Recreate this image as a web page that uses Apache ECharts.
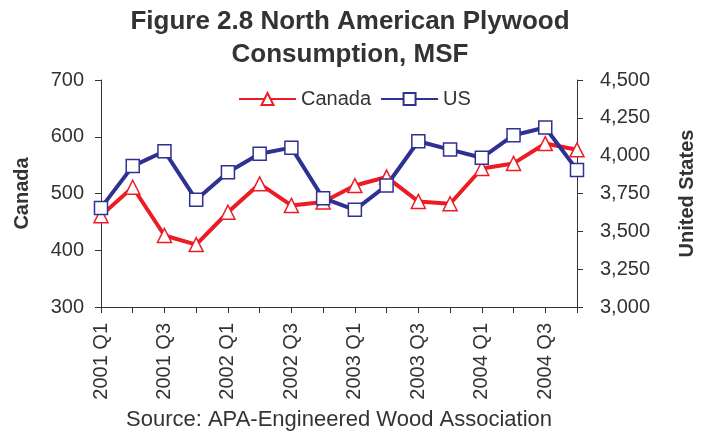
<!DOCTYPE html>
<html>
<head>
<meta charset="utf-8">
<script src="https://cdn.jsdelivr.net/npm/echarts@6/dist/echarts.min.js"></script>
<style>
  html, body { margin: 0; padding: 0; background: #fff; }
  #chart { width: 706px; height: 435px; }
</style>
</head>
<body>
<div id="chart"></div>
<script>
  // Quarters shown on the x axis
  const quarters = [
    '2001 Q1', '2001 Q2', '2001 Q3', '2001 Q4',
    '2002 Q1', '2002 Q2', '2002 Q3', '2002 Q4',
    '2003 Q1', '2003 Q2', '2003 Q3', '2003 Q4',
    '2004 Q1', '2004 Q2', '2004 Q3', '2004 Q4'
  ];
  // Canada, MSF (left axis)
  const canada = [461, 511, 426, 410, 467, 517, 479, 485, 514, 529, 486, 482, 544, 553, 588, 577];
  // US, MSF (right axis)
  const us = [3655, 3931, 4029, 3708, 3891, 4013, 4053, 3719, 3642, 3803, 4095, 4040, 3986, 4135, 4186, 3906];

  const font = '"Liberation Sans", Arial, sans-serif';
  const textColor = '#333';
  const axisColor = '#333';

  const chart = echarts.init(document.getElementById('chart'));
  chart.setOption({
    animation: false,
    title: {
      text: 'Figure 2.8 North American Plywood\nConsumption, MSF',
      left: 345,
      textAlign: 'center',
      top: 0,
      textStyle: { fontFamily: font, fontSize: 26, fontWeight: 'bold', color: textColor, lineHeight: 33 }
    },
    legend: {
      left: 233,
      top: 84,
      itemWidth: 57,
      itemHeight: 15,
      itemGap: 9,
      textStyle: { fontFamily: font, fontSize: 20, color: textColor },
      data: ['Canada', 'US']
    },
    grid: { left: 101, right: 129, top: 80, bottom: 128 },
    xAxis: {
      type: 'category',
      data: quarters,
      boundaryGap: false,
      axisLine: { lineStyle: { color: axisColor } },
      axisTick: { alignWithLabel: true, interval: 0, length: 6, lineStyle: { color: axisColor } },
      axisLabel: {
        interval: 1,
        rotate: 90,
        margin: 16,
        fontFamily: font,
        fontSize: 20,
        color: textColor
      }
    },
    yAxis: [
      {
        type: 'value',
        name: 'Canada',
        nameLocation: 'middle',
        nameGap: 69,
        nameTextStyle: { fontFamily: font, fontSize: 20, fontWeight: 'bold', color: textColor },
        min: 300,
        max: 700,
        interval: 100,
        axisLine: { show: true, lineStyle: { color: axisColor } },
        axisTick: { show: true, length: 6, lineStyle: { color: axisColor } },
        splitLine: { show: false },
        axisLabel: { fontFamily: font, fontSize: 20, color: textColor, margin: 17 }
      },
      {
        type: 'value',
        name: 'United States',
        nameLocation: 'middle',
        nameGap: 100,
        nameRotate: 90,
        nameTextStyle: { fontFamily: font, fontSize: 20, fontWeight: 'bold', color: textColor },
        min: 3000,
        max: 4500,
        interval: 250,
        axisLine: { show: true, lineStyle: { color: axisColor } },
        axisTick: { show: true, length: 6, lineStyle: { color: axisColor } },
        splitLine: { show: false },
        axisLabel: {
          fontFamily: font, fontSize: 20, color: textColor, margin: 23,
          formatter: v => v.toLocaleString('en-US')
        }
      }
    ],
    series: [
      {
        name: 'Canada',
        type: 'line',
        yAxisIndex: 0,
        data: canada,
        symbol: 'triangle',
        symbolSize: 14,
        lineStyle: { color: '#ed1c24', width: 4 },
        itemStyle: { color: '#fff', borderColor: '#ed1c24', borderWidth: 1.5 }
      },
      {
        name: 'US',
        type: 'line',
        yAxisIndex: 1,
        data: us,
        symbol: 'rect',
        symbolSize: 13,
        lineStyle: { color: '#2e3192', width: 4 },
        itemStyle: { color: '#fff', borderColor: '#2e3192', borderWidth: 1.5 }
      }
    ],
    graphic: [
      {
        type: 'text',
        x: 339,
        y: 409,
        style: {
          text: 'Source: APA-Engineered Wood Association',
          fontFamily: font,
          fontSize: 22,
          fill: textColor,
          align: 'center'
        }
      }
    ]
  });
</script>
</body>
</html>
